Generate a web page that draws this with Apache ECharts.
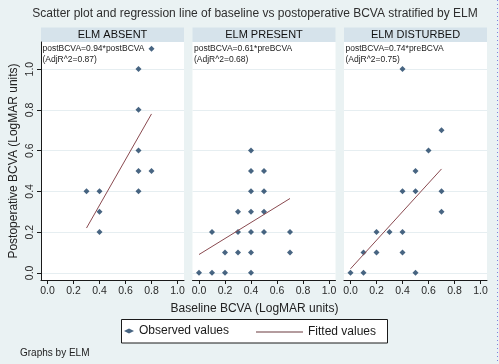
<!DOCTYPE html>
<html><head><meta charset="utf-8">
<script src="https://cdn.jsdelivr.net/npm/echarts@6/dist/echarts.min.js"></script>
<style>html,body{margin:0;padding:0;background:#eaf2f3}#c{width:499px;height:364px}</style>
</head><body><div id="c"></div>
<script>
const mainTitle = 'Scatter plot and regression line of baseline vs postoperative BCVA stratified by ELM';
const panels = ['ELM ABSENT', 'ELM PRESENT', 'ELM DISTURBED'];
const xTitle = 'Baseline BCVA (LogMAR units)';
const yTitle = 'Postoperative BCVA (LogMAR units)';
const tickValues = [0, 0.2, 0.4, 0.6, 0.8, 1.0];

const absentX = [0.8, 0.7, 0.7, 0.7, 0.7, 0.8, 0.3, 0.4, 0.7, 0.4, 0.4];
const absentY = [1.1, 1.0, 0.8, 0.6, 0.5, 0.5, 0.4, 0.4, 0.4, 0.3, 0.2];
const presentX = [0.4, 0.4, 0.5, 0.4, 0.5, 0.3, 0.4, 0.5, 0.1, 0.3, 0.4, 0.5, 0.7, 0.2, 0.3, 0.4, 0.7, 0.0, 0.1, 0.2, 0.4];
const presentY = [0.6, 0.5, 0.5, 0.4, 0.4, 0.3, 0.3, 0.3, 0.2, 0.2, 0.2, 0.2, 0.2, 0.1, 0.1, 0.1, 0.1, 0.0, 0.0, 0.0, 0.0];
const disturbedX = [0.4, 0.7, 0.6, 0.5, 0.4, 0.5, 0.7, 0.7, 0.2, 0.3, 0.4, 0.1, 0.2, 0.4, 0.0, 0.1, 0.5];
const disturbedY = [1.0, 0.7, 0.6, 0.5, 0.4, 0.4, 0.4, 0.3, 0.2, 0.2, 0.2, 0.1, 0.1, 0.1, 0.0, 0.0, 0.0];

const absentFitX = [0.3, 0.8], absentFitY = [0.22, 0.78];
const presentFitX = [0.0, 0.7], presentFitY = [0.09, 0.365];
const disturbedFitX = [0.0, 0.7], disturbedFitY = [0.02, 0.51];

const equations = ['postBCVA=0.94*postBCVA', 'postBCVA=0.61*preBCVA', 'postBCVA=0.74*preBCVA'];
const adjR2 = ['(AdjR^2=0.87)', '(AdjR^2=0.68)', '(AdjR^2=0.75)'];
const legendNames = ['Observed values', 'Fitted values'];
const footnote = 'Graphs by ELM';

const obsX = [absentX, presentX, disturbedX], obsY = [absentY, presentY, disturbedY];
const fitX = [absentFitX, presentFitX, disturbedFitX], fitY = [absentFitY, presentFitY, disturbedFitY];
const zip = (a, b) => a.map((v, i) => [v, b[i]]);

const FONT = 'Liberation Sans, Arial, sans-serif';
const gridLefts = [41, 192.5, 344];
const GW = 143, GTOP = 42, GH = 238;

const grids = gridLefts.map(l => ({left: l, top: GTOP, width: GW, height: GH, show: true, backgroundColor: '#ffffff', borderWidth: 0}));
const xAxes = gridLefts.map((l, i) => ({
  type: 'value', gridIndex: i, min: -0.05, max: 1.05,
  axisLine: {show: true, onZero: false, lineStyle: {color: '#1a1a1a', width: 1}},
  axisTick: {show: true, length: 4, customValues: tickValues, lineStyle: {color: '#1a1a1a'}},
  axisLabel: {show: true, customValues: tickValues, formatter: v => v.toFixed(1), fontSize: 10.5, color: '#2a2a2a', fontFamily: FONT, margin: 6},
  splitLine: {show: false}
}));
const yAxes = gridLefts.map((l, i) => ({
  type: 'value', gridIndex: i, min: -0.035, max: 1.133,
  name: i === 0 ? yTitle : '', nameLocation: 'middle', nameRotate: 90, nameGap: 21,
  nameTextStyle: {fontSize: 12, color: '#222', fontFamily: FONT},
  axisLine: {show: i === 0, onZero: false, lineStyle: {color: '#1a1a1a', width: 1}},
  axisTick: {show: i === 0, length: 4, customValues: tickValues, lineStyle: {color: '#1a1a1a'}},
  axisLabel: {show: i === 0, customValues: tickValues, formatter: v => v.toFixed(1), rotate: 90, fontSize: 10.5, color: '#2a2a2a', fontFamily: FONT, margin: 5},
  splitLine: {show: true, lineStyle: {color: '#e6eef1', width: 1}}
}));

const series = [];
for (let i = 0; i < 3; i++) {
  series.push({
    type: 'scatter', name: legendNames[0], xAxisIndex: i, yAxisIndex: i,
    data: zip(obsX[i], obsY[i]), symbol: 'diamond', symbolSize: 6,
    itemStyle: {color: '#1a3f63'}, clip: false, silent: true
  });
  series.push({
    type: 'line', name: legendNames[1], xAxisIndex: i, yAxisIndex: i,
    data: zip(fitX[i], fitY[i]), symbol: 'none', showSymbol: false,
    lineStyle: {color: '#8a4a50', width: 1}, itemStyle: {color: '#8a4a50'}, silent: true
  });
}

const graphic = [];
gridLefts.forEach((l, i) => {
  graphic.push({type: 'rect', shape: {x: l, y: 27.5, width: GW, height: 14.5}, style: {fill: '#d6e3eb'}, z: 0});
  graphic.push({type: 'text', x: l + GW / 2, y: 35, style: {text: panels[i], align: 'center', verticalAlign: 'middle', fontSize: 11, fontFamily: FONT, fill: '#111'}, z: 10});
  graphic.push({type: 'text', x: l + 1.5, y: 49, style: {text: equations[i], align: 'left', verticalAlign: 'middle', fontSize: 8.5, fontFamily: FONT, fill: '#222'}, z: 10});
  graphic.push({type: 'text', x: l + 1.5, y: 60, style: {text: adjR2[i], align: 'left', verticalAlign: 'middle', fontSize: 8.5, fontFamily: FONT, fill: '#222'}, z: 10});
});
graphic.push({type: 'text', x: 255, y: 14, style: {text: mainTitle, align: 'center', verticalAlign: 'middle', fontSize: 12, fontFamily: FONT, fill: '#2e2e2e'}});
graphic.push({type: 'text', x: 254.5, y: 309, style: {text: xTitle, align: 'center', verticalAlign: 'middle', fontSize: 12, fontFamily: FONT, fill: '#222'}});
graphic.push({type: 'rect', shape: {x: 121.5, y: 319.5, width: 266, height: 23.5}, style: {fill: '#ffffff', stroke: '#1a1a1a', lineWidth: 1}, z: 0});
graphic.push({type: 'text', x: 20, y: 353, style: {text: footnote, align: 'left', verticalAlign: 'middle', fontSize: 10, fontFamily: FONT, fill: '#222'}});
graphic.push({type: 'line', shape: {x1: 497.5, y1: 0, x2: 497.5, y2: 364}, style: {stroke: '#8080e0', lineWidth: 1, lineDash: [1, 3]}});

const chart = echarts.init(document.getElementById('c'), null, {renderer: 'canvas'});
chart.setOption({
  backgroundColor: '#eaf2f3',
  animation: false,
  grid: grids, xAxis: xAxes, yAxis: yAxes, series: series,
  legend: [
    {data: [{name: legendNames[0], icon: 'diamond'}], left: 124, top: 325, padding: 0, itemWidth: 10, itemHeight: 5, selectedMode: false, z: 20,
     textStyle: {fontSize: 12, color: '#1a1a1a', fontFamily: FONT}},
    {data: [{name: legendNames[1], icon: 'rect'}], left: 256, top: 325, padding: 0, itemWidth: 47, itemHeight: 1, selectedMode: false, z: 20,
     itemStyle: {color: '#6a3a3e'},
     textStyle: {fontSize: 12, color: '#1a1a1a', fontFamily: FONT, lineHeight: 14}}
  ],
  graphic: graphic
});
</script></body></html>
